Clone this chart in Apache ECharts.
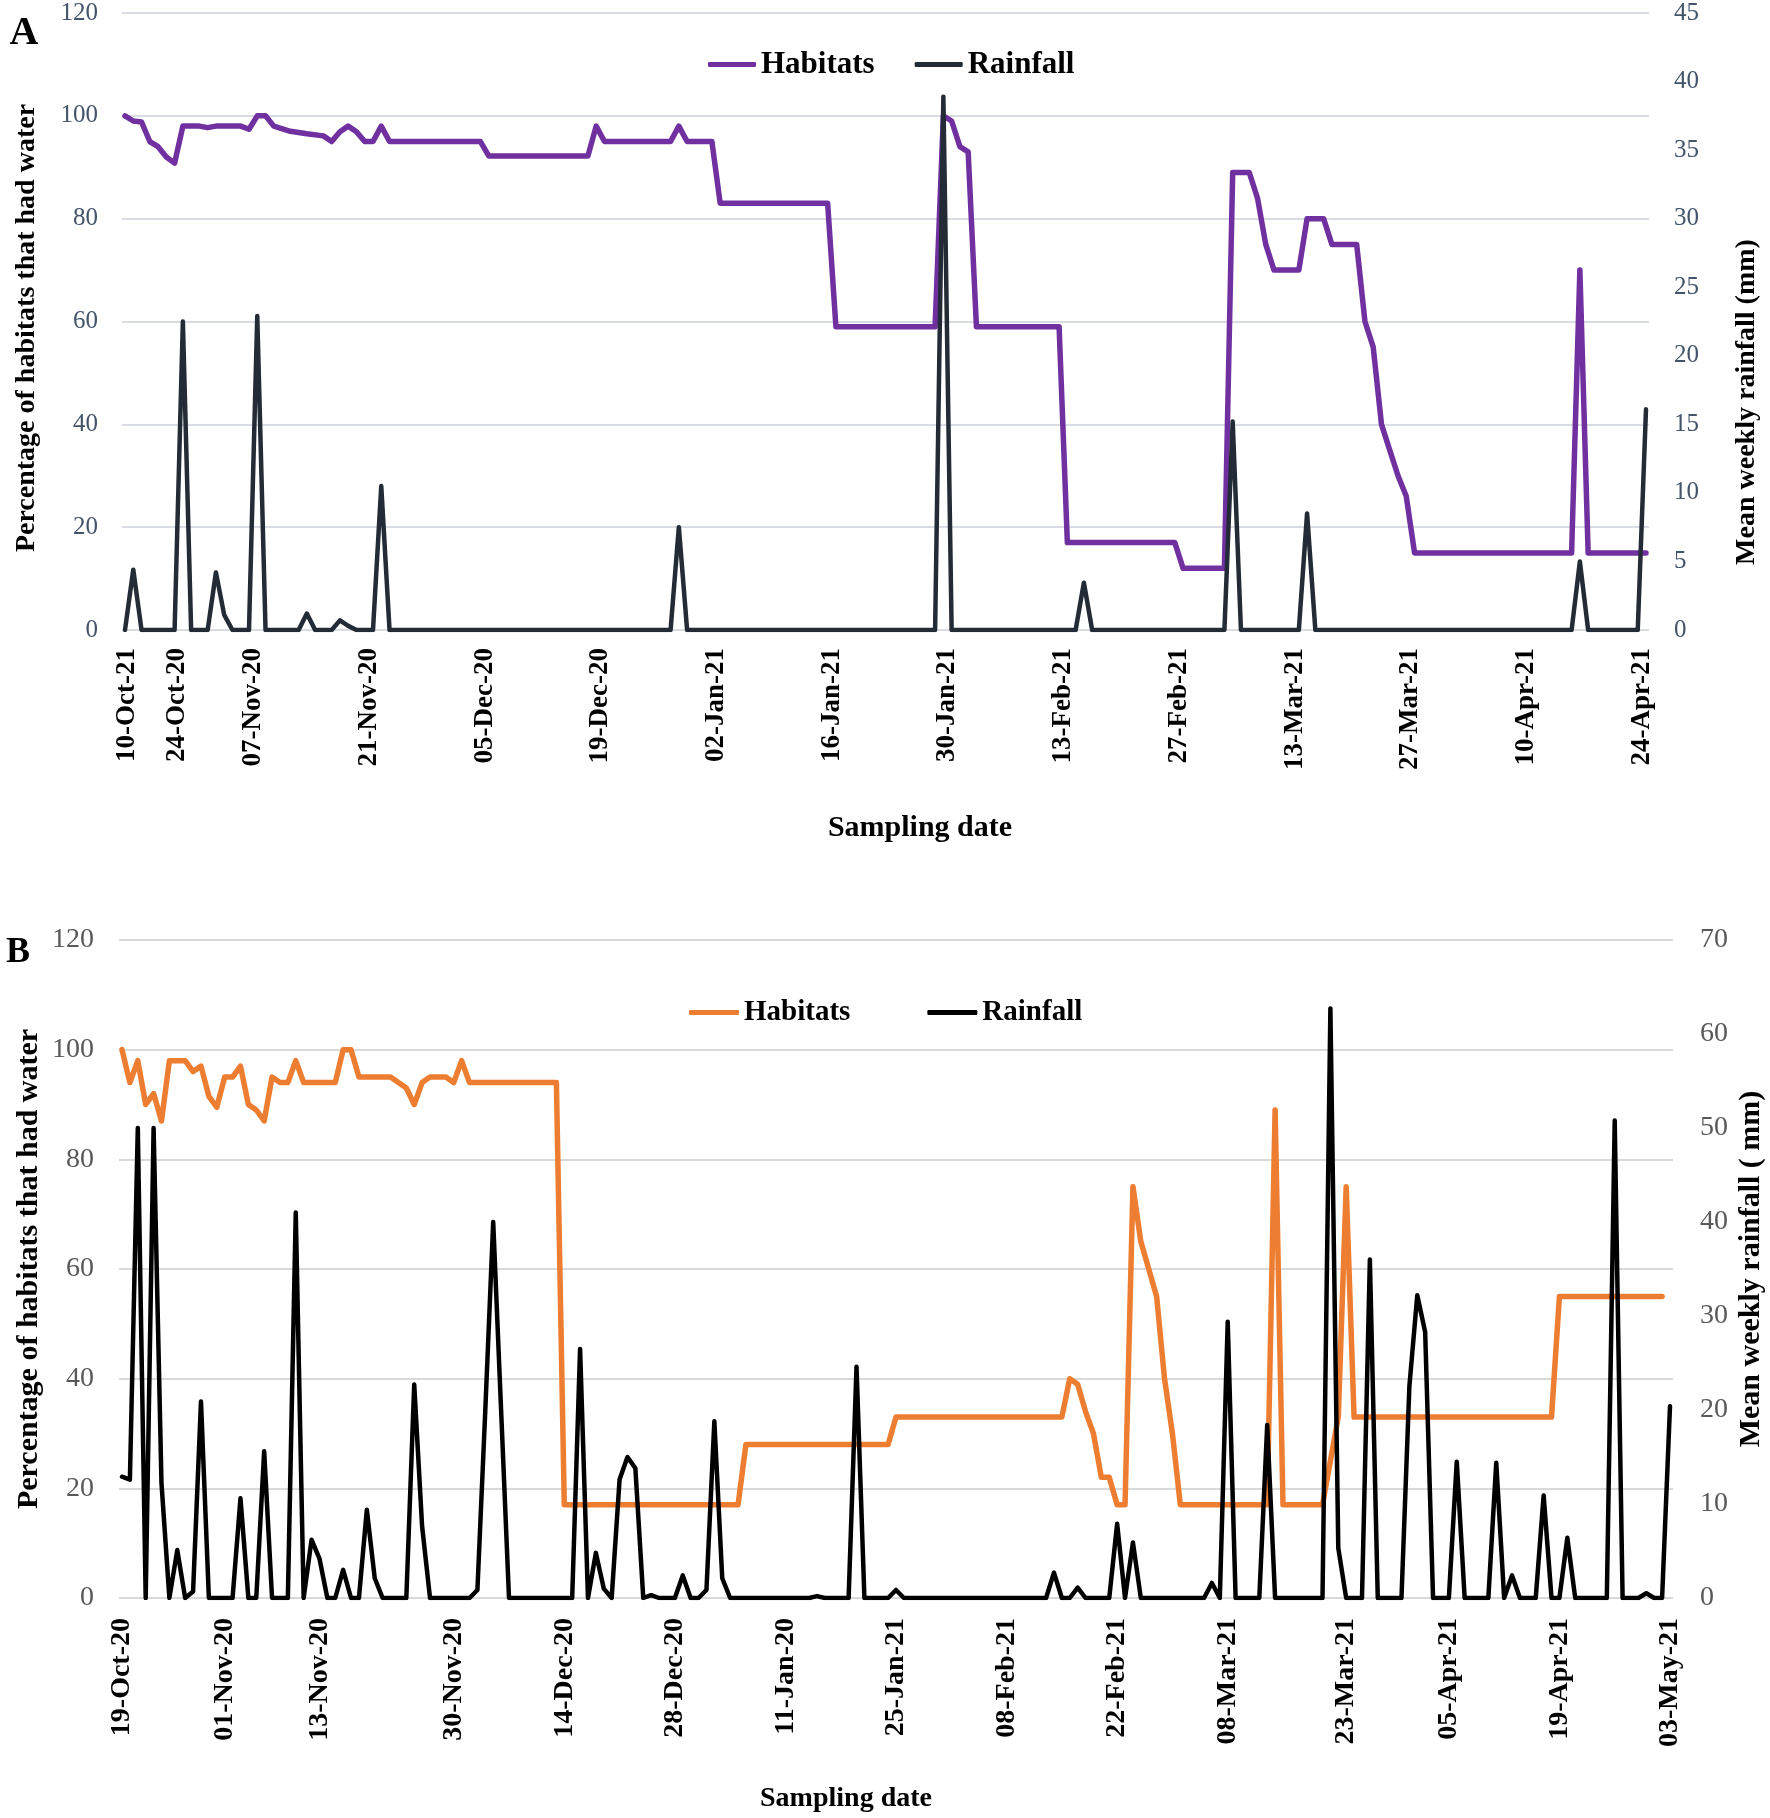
<!DOCTYPE html>
<html><head><meta charset="utf-8">
<script src="https://cdn.jsdelivr.net/npm/echarts@6/dist/echarts.min.js"></script>
<style>html,body{margin:0;padding:0;background:#fff}#c{width:1770px;height:1818px}</style>
</head><body><div id="c"></div>
<script>
// ---------- Panel A ----------
const tickLabelsA = ['10-Oct-21','24-Oct-20','07-Nov-20','21-Nov-20','05-Dec-20','19-Dec-20','02-Jan-21','16-Jan-21','30-Jan-21','13-Feb-21','27-Feb-21','13-Mar-21','27-Mar-21','10-Apr-21','24-Apr-21'];
const tickPosA = [0.3, 6.3, 15.5, 29.5, 43.5, 57.5, 71.5, 85.5, 99.5, 113.5, 127.5, 141.5, 155.5, 169.5, 183.5];
// [day index, % of habitats with water]
const habitatsA = [[0,100],[1,99],[2,98.8],[3,95],[4,94],[5,92],[6,90.8],[7,98],[9,98],[10,97.7],[11,98],[14,98],[15,97.4],[16,100],[17,100],[18,98],[20,97],[22,96.5],[24,96.1],[25,95],[26,96.9],[27,98],[28,96.9],[29,95],[30,95],[31,98],[32,95],[43,95],[44,92.2],[56,92.2],[57,98],[58,95],[66,95],[67,98],[68,95],[71,95],[72,83],[85,83],[86,59],[98,59],[99,100],[100,99],[101,94],[102,93],[103,59],[113,59],[114,17],[127,17],[128,12],[133,12],[134,89],[136,89],[137,84],[138,75],[139,70],[142,70],[143,80],[145,80],[146,75],[149,75],[150,60],[151,55],[152,40],[153,35],[154,30],[155,26],[156,15],[175,15],[176,70],[177,15],[184,15]];
// [day index, mean weekly rainfall mm]
const rainfallA = [[0,0],[1,4.4],[2,0],[6,0],[7,22.5],[8,0],[10,0],[11,4.2],[12,1.1],[13,0],[15,0],[16,22.9],[17,0],[21,0],[22,1.2],[23,0],[25,0],[26,0.7],[27,0.3],[28,0],[30,0],[31,10.5],[32,0],[66,0],[67,7.5],[68,0],[98,0],[99,38.9],[100,0],[115,0],[116,3.45],[117,0],[133,0],[134,15.2],[135,0],[142,0],[143,8.5],[144,0],[175,0],[176,5.0],[177,0],[183,0],[184,16.1]];

// ---------- Panel B ----------
const tickLabelsB = ['19-Oct-20','01-Nov-20','13-Nov-20','30-Nov-20','14-Dec-20','28-Dec-20','11-Jan-20','25-Jan-21','08-Feb-21','22-Feb-21','08-Mar-21','23-Mar-21','05-Apr-21','19-Apr-21','03-May-21'];
const tickPosB = [0, 13, 25, 42, 56, 70, 84, 98, 112, 126, 140, 155, 168, 182, 196];
const habitatsB = [[0,100],[1,94],[2,98],[3,90],[4,92],[5,87],[6,98],[8,98],[9,96],[10,97],[11,91.5],[12,89.5],[13,95],[14,95],[15,97],[16,90],[17,89],[18,87],[19,95],[20,94],[21,94],[22,98],[23,94],[27,94],[28,100],[29,100],[30,95],[34,95],[35,94],[36,93],[37,90],[38,94],[39,95],[41,95],[42,94],[43,98],[44,94],[55,94],[56,17],[78,17],[79,28],[97,28],[98,33],[119,33],[120,40],[121,39],[122,34],[123,30],[124,22],[125,22],[126,17],[127,17],[128,75],[129,65],[131,55],[132,40],[133,30],[134,17],[145,17],[146,89],[147,17],[152,17],[154,33],[155,75],[156,33],[181,33],[182,55],[195,55]];
const rainfallB = [[0,12.9],[1,12.6],[2,50],[3,0],[4,50],[5,12.2],[6,0],[7,5.1],[8,0],[9,0.7],[10,20.9],[11,0],[14,0],[15,10.6],[16,0],[17,0],[18,15.6],[19,0],[21,0],[22,41],[23,0],[24,6.2],[25,4.2],[26,0],[27,0],[28,3.0],[29,0],[30,0],[31,9.4],[32,2.1],[33,0],[36,0],[37,22.7],[38,7.6],[39,0],[44,0],[45,0.85],[46,20],[47,40],[48,20],[49,0],[57,0],[58,26.5],[59,0],[60,4.8],[61,1.0],[62,0],[63,12.6],[64,15],[65,13.8],[66,0],[67,0.3],[68,0],[70,0],[71,2.4],[72,0],[73,0],[74,0.85],[75,18.8],[76,2.1],[77,0],[87,0],[88,0.2],[89,0],[92,0],[93,24.6],[94,0],[97,0],[98,0.85],[99,0],[117,0],[118,2.7],[119,0],[120,0],[121,1.1],[122,0],[125,0],[126,7.9],[127,0],[128,5.9],[129,0],[137,0],[138,1.6],[139,0],[140,29.4],[141,0],[144,0],[145,18.4],[146,0],[152,0],[153,62.7],[154,5.3],[155,0],[157,0],[158,36],[159,0],[162,0],[163,22.5],[164,32.2],[165,28.3],[166,0],[168,0],[169,14.5],[170,0],[173,0],[174,14.4],[175,0],[176,2.4],[177,0],[179,0],[180,10.9],[181,0],[182,0],[183,6.4],[184,0],[188,0],[189,50.8],[190,0],[192,0],[193,0.5],[194,0],[195,0],[196,20.4]];

const SERIF = '"Liberation Serif", "Times New Roman", serif';
const chart = echarts.init(document.getElementById('c'), null, {renderer: 'canvas'});

function xAxisCfg(grid, min, max, pos, labels, fs, margin) {
  return {
    type: 'value', gridIndex: grid, min: min, max: max,
    axisLine: {show: false}, axisTick: {show: false}, splitLine: {show: false},
    axisLabel: {
      customValues: pos, rotate: 90, margin: margin,
      fontFamily: SERIF, fontWeight: 'bold', fontSize: fs, color: '#000',
      formatter: function (v) { const i = pos.indexOf(v); return i >= 0 ? labels[i] : ''; }
    }
  };
}
function yAxisCfg(grid, max, interval, pos, color, fs, margin, split, gridColor) {
  return {
    type: 'value', gridIndex: grid, min: 0, max: max, interval: interval, position: pos,
    axisLine: {show: false}, axisTick: {show: false},
    splitLine: {show: split, lineStyle: {color: gridColor, width: 2}},
    axisLabel: {fontFamily: SERIF, fontSize: fs, color: color, margin: margin}
  };
}
function txt(x, y, text, fs, rot) {
  return {type: 'text', x: x, y: y, rotation: rot || 0, silent: true,
    style: {text: text, fontFamily: SERIF, fontWeight: 'bold', fontSize: fs, fill: '#000', align: 'center', verticalAlign: 'middle'}};
}

const option = {
  backgroundColor: '#fff',
  animation: false,
  grid: [
    {left: 122, right: 121, top: 13, height: 617, outerBoundsMode: 'none'},
    {left: 119, right: 97, top: 940, height: 658, outerBoundsMode: 'none'}
  ],
  legend: [
    {data: ['Habitats', 'Rainfall'], left: 703, top: 44, itemWidth: 48, itemHeight: 5, itemGap: 40, icon: 'roundRect',
     textStyle: {fontFamily: SERIF, fontWeight: 'bold', fontSize: 31, lineHeight: 31, color: '#000'}},
    {data: ['Habitats ', 'Rainfall '], left: 684, top: 993, itemWidth: 50, itemHeight: 5, itemGap: 77, icon: 'roundRect',
     textStyle: {fontFamily: SERIF, fontWeight: 'bold', fontSize: 29, lineHeight: 29, color: '#000'},
     formatter: function (n) { return n.trim(); }}
  ],
  xAxis: [
    xAxisCfg(0, -0.363, 184.363, tickPosA, tickLabelsA, 27, 18),
    xAxisCfg(1, -0.38, 196.38, tickPosB, tickLabelsB, 28, 20)
  ],
  yAxis: [
    yAxisCfg(0, 120, 20, 'left', '#44546a', 25, 24, true, '#d9dde3'),
    yAxisCfg(0, 45, 5, 'right', '#44546a', 25, 25, false),
    yAxisCfg(1, 120, 20, 'left', '#595959', 28, 25, true, '#d9d9d9'),
    yAxisCfg(1, 70, 10, 'right', '#595959', 28, 27, false)
  ],
  series: [
    {name: 'Habitats', type: 'line', xAxisIndex: 0, yAxisIndex: 0, data: habitatsA, showSymbol: false, symbol: 'none', color: '#7030a0',
     lineStyle: {width: 5.5, color: '#7030a0', join: 'round', cap: 'round'}},
    {name: 'Rainfall', type: 'line', xAxisIndex: 0, yAxisIndex: 1, data: rainfallA, showSymbol: false, symbol: 'none', color: '#232b36',
     lineStyle: {width: 4.5, color: '#232b36', join: 'round', cap: 'round'}},
    {name: 'Habitats ', type: 'line', xAxisIndex: 1, yAxisIndex: 2, data: habitatsB, showSymbol: false, symbol: 'none', color: '#ed7d31',
     lineStyle: {width: 5.5, color: '#ed7d31', join: 'round', cap: 'round'}},
    {name: 'Rainfall ', type: 'line', xAxisIndex: 1, yAxisIndex: 3, data: rainfallB, showSymbol: false, symbol: 'none', color: '#000000',
     lineStyle: {width: 4.5, color: '#000000', join: 'round', cap: 'round'}}
  ],
  graphic: [
    txt(24, 34, 'A', 40),
    txt(18, 953, 'B', 36),
    txt(27, 328, 'Percentage of habitats that had water', 28, Math.PI / 2),
    txt(1747, 402, 'Mean weekly rainfall (mm)', 28, Math.PI / 2),
    txt(920, 828, 'Sampling date', 30),
    txt(29, 1269, 'Percentage of habitats that had water', 30, Math.PI / 2),
    txt(1751, 1269, 'Mean weekly rainfall ( mm)', 30, Math.PI / 2),
    txt(846, 1799, 'Sampling date', 28)
  ]
};
chart.setOption(option);
</script></body></html>
